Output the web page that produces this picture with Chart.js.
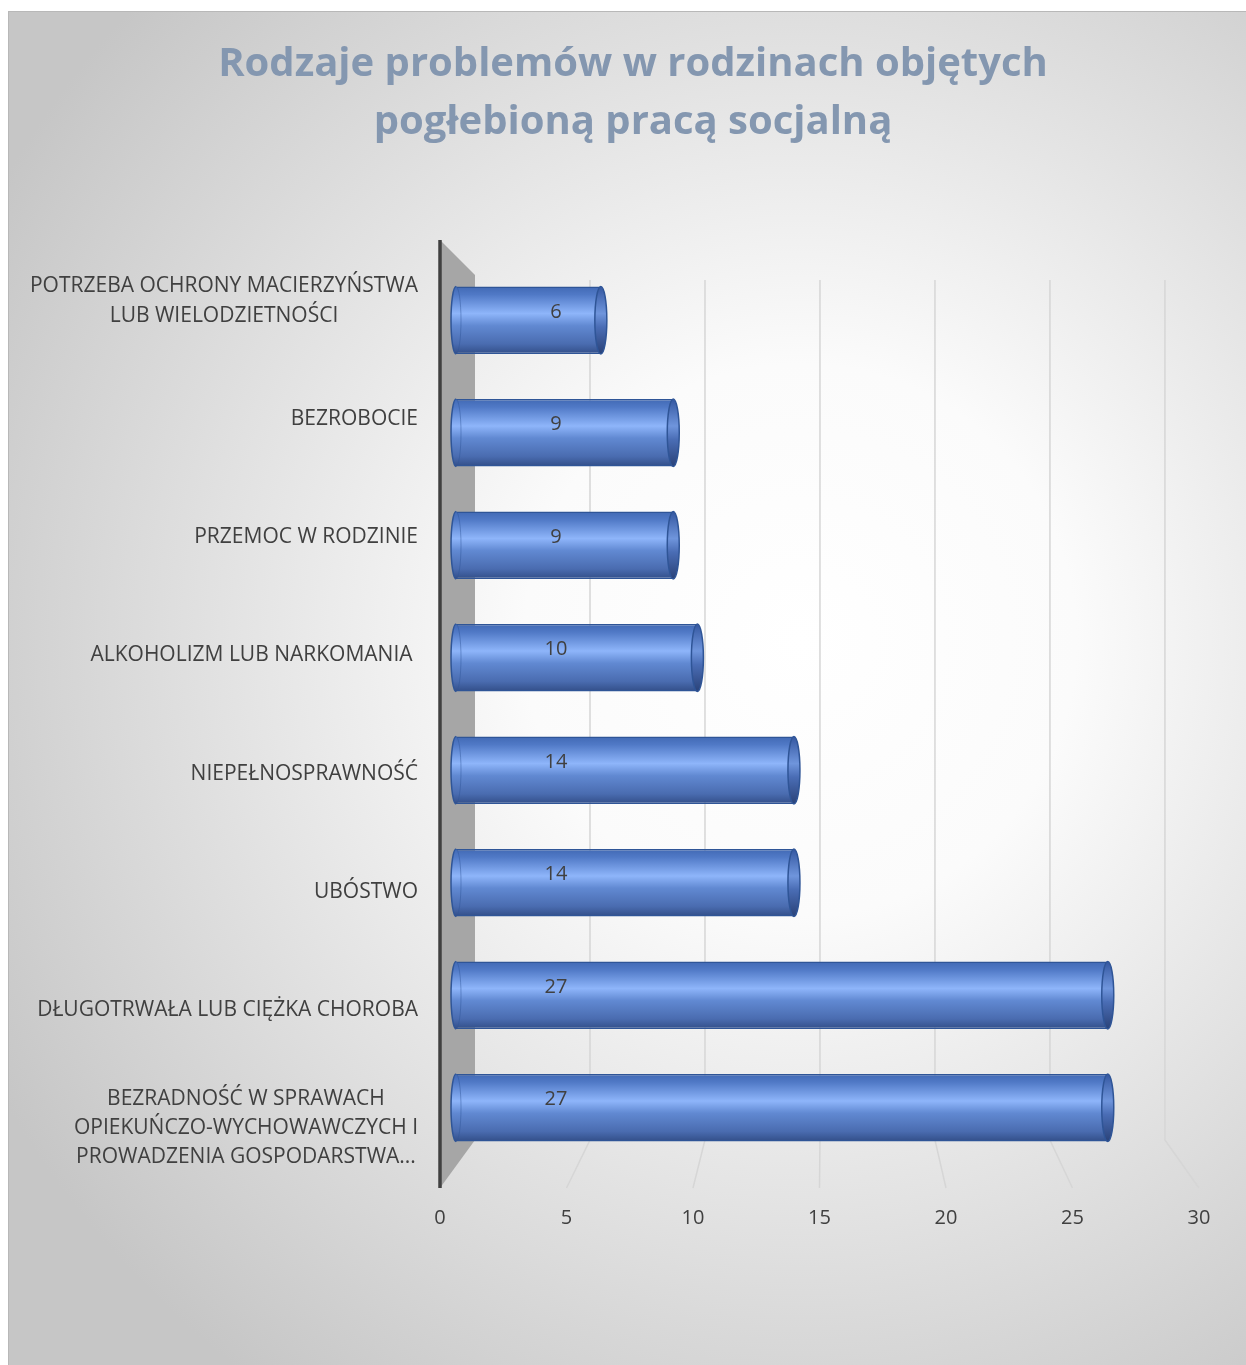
<!DOCTYPE html>
<html>
<head>
<meta charset="utf-8">
<script src="https://cdn.jsdelivr.net/npm/chart.js@4.4.0/dist/chart.umd.min.js"></script>
<style>
html, body { margin: 0; padding: 0; background: #fff; }
#wrap { width: 1246px; height: 1365px; }
</style>
</head>
<body>
<div id="wrap"><canvas id="problemsChart"></canvas></div>

<script>
const titleLines = ['Rodzaje problemów w rodzinach objętych', 'pogłebioną pracą socjalną'];
const categories = [
    ['POTRZEBA OCHRONY MACIERZYŃSTWA', 'LUB WIELODZIETNOŚCI'],
    'BEZROBOCIE',
    'PRZEMOC W RODZINIE',
    'ALKOHOLIZM LUB NARKOMANIA ',
    'NIEPEŁNOSPRAWNOŚĆ',
    'UBÓSTWO',
    'DŁUGOTRWAŁA LUB CIĘŻKA CHOROBA',
    ['BEZRADNOŚĆ W SPRAWACH', 'OPIEKUŃCZO-WYCHOWAWCZYCH I', 'PROWADZENIA GOSPODARSTWA...']
];
const values = [6, 9, 9, 10, 14, 14, 27, 27];
const axisMin = 0;
const axisMax = 30;
const axisStep = 5;

const TEXT = '#404040';
const FONT = "'Open Sans', 'Noto Sans', sans-serif";

// the 3-D view: bars sit mid-depth, axis labels on the front edge, grid on the back wall.
// the front axis spans the whole plot, the other planes are narrower.
const BAR_RANGE = { min: -0.663, max: 30.78 };
const LABEL_RANGE = { min: -0.313, max: 7.305 };

function cylinderGradient(ctx, top, bottom, dark) {
    const g = ctx.createLinearGradient(0, top, 0, bottom);
    if (dark) {
        g.addColorStop(0, '#3457a0');
        g.addColorStop(0.4, '#6f95dc');
        g.addColorStop(0.6, '#4a6db5');
        g.addColorStop(1, '#2a4278');
    } else {
        g.addColorStop(0, '#4169b4');
        g.addColorStop(0.12, '#5079c6');
        g.addColorStop(0.4, '#8eb5fa');
        g.addColorStop(0.58, '#6189d2');
        g.addColorStop(0.85, '#4a6cb0');
        g.addColorStop(1, '#324e88');
    }
    return g;
}

const backdrop = {
    id: 'backdrop',
    beforeDraw(chart) {
        const ctx = chart.ctx;
        const w = chart.width, h = chart.height;
        ctx.save();
        ctx.fillStyle = '#ffffff';
        ctx.fillRect(0, 0, w, h);
        const g = ctx.createRadialGradient(800, 640, 0, 800, 640, 920);
        g.addColorStop(0, '#ffffff');
        g.addColorStop(0.3, '#fbfbfb');
        g.addColorStop(1, '#c6c6c6');
        ctx.fillStyle = g;
        ctx.fillRect(8, 11, w - 8, h - 11);
        ctx.strokeStyle = '#b8b8b8';
        ctx.lineWidth = 1;
        ctx.strokeRect(8.5, 11.5, w, h);
        ctx.restore();
    }
};

// side wall, floor and back grid, placed from the front axis
const walls = {
    id: 'walls',
    beforeDatasetsDraw(chart) {
        const ctx = chart.ctx;
        const xf = chart.scales.xFront;
        const a = chart.chartArea;
        const f0 = xf.getPixelForValue(0);
        const backX = v => f0 + 35 + (xf.getPixelForValue(v) - f0) * 0.909;
        const yTop = a.top - 24, yBack = a.bottom - 24, yFront = a.bottom + 24;

        ctx.save();
        ctx.strokeStyle = '#d6d6d6';
        ctx.lineWidth = 1.5;
        xf.ticks.forEach(t => {
            if (t.value === 0) return;
            ctx.beginPath();
            ctx.moveTo(backX(t.value), a.top + 16);
            ctx.lineTo(backX(t.value), yBack);
            ctx.lineTo(xf.getPixelForValue(t.value), yFront);
            ctx.stroke();
        });

        ctx.fillStyle = '#a6a6a6';
        ctx.beginPath();
        ctx.moveTo(f0, yTop);
        ctx.lineTo(backX(0), a.top + 11);
        ctx.lineTo(backX(0), yBack);
        ctx.lineTo(f0, yFront);
        ctx.closePath();
        ctx.fill();

        ctx.strokeStyle = TEXT;
        ctx.lineWidth = 3.5;
        ctx.beginPath();
        ctx.moveTo(f0, yTop);
        ctx.lineTo(f0, yFront);
        ctx.stroke();
        ctx.restore();
    }
};

// end caps of the cylinders and the value labels
const caps = {
    id: 'caps',
    afterDatasetsDraw(chart) {
        const ctx = chart.ctx;
        const meta = chart.getDatasetMeta(0);
        const x0 = chart.scales.x.getPixelForValue(0);
        ctx.save();
        meta.data.forEach((bar, i) => {
            const p = bar.getProps(['x', 'y', 'base', 'height'], true);
            const top = p.y - p.height / 2, bottom = p.y + p.height / 2;
            const ry = p.height / 2;

            ctx.fillStyle = cylinderGradient(ctx, top, bottom, false);
            ctx.beginPath();
            ctx.ellipse(p.base, p.y, 5, ry, 0, 0, Math.PI * 2);
            ctx.fill();
            ctx.strokeStyle = '#2f5597';
            ctx.lineWidth = 1.5;
            ctx.beginPath();
            ctx.ellipse(p.base, p.y, 5, ry, 0, Math.PI / 2, Math.PI * 1.5);
            ctx.stroke();
            ctx.strokeStyle = 'rgba(47,85,151,0.45)';
            ctx.lineWidth = 1;
            ctx.beginPath();
            ctx.ellipse(p.base, p.y, 5, ry, 0, -Math.PI / 2, Math.PI / 2);
            ctx.stroke();

            ctx.fillStyle = cylinderGradient(ctx, top, bottom, true);
            ctx.beginPath();
            ctx.ellipse(p.x, p.y, 6, ry, 0, 0, Math.PI * 2);
            ctx.fill();
            ctx.strokeStyle = '#2f5597';
            ctx.lineWidth = 1.5;
            ctx.stroke();

            ctx.fillStyle = TEXT;
            ctx.font = '20px ' + FONT;
            ctx.textAlign = 'center';
            ctx.textBaseline = 'middle';
            ctx.fillText(String(values[i]), x0 + 100, p.y - 8);
        });
        ctx.restore();
    }
};

// multi-line category labels are centred on themselves, the block stays right aligned
const centreLines = {
    id: 'centreLines',
    beforeDraw(chart) {
        const ys = chart.scales.yLabels;
        const items = ys.getLabelItems();
        if (items._centred) return;
        const ctx = chart.ctx;
        items.forEach(it => {
            if (!Array.isArray(it.label)) return;
            ctx.save();
            ctx.font = it.font.string;
            const widest = Math.max(...it.label.map(s => ctx.measureText(s).width));
            ctx.restore();
            it.options.textAlign = 'center';
            it.options.translation[0] -= widest / 2;
        });
        items._centred = true;
    }
};

new Chart(document.getElementById('problemsChart'), {
    type: 'bar',
    data: {
        labels: categories,
        datasets: [{
            data: values,
            backgroundColor: function(c) {
                const chart = c.chart;
                const a = chart.chartArea;
                if (!a) return '#5079c6';
                const yc = chart.scales.y.getPixelForValue(c.dataIndex);
                const half = (a.bottom - a.top) / categories.length * 0.6 / 2;
                return cylinderGradient(chart.ctx, yc - half, yc + half, false);
            },
            borderColor: '#2f5597',
            borderWidth: { top: 1.5, bottom: 1.5, left: 0, right: 0 },
            borderSkipped: false,
            categoryPercentage: 1,
            barPercentage: 0.6
        }]
    },
    options: {
        indexAxis: 'y',
        responsive: true,
        maintainAspectRatio: false,
        animation: false,
        devicePixelRatio: 1,
        layout: { padding: { top: 20, left: 20, right: 0, bottom: 131 } },
        scales: {
            x: {
                display: false,
                min: BAR_RANGE.min,
                max: BAR_RANGE.max
            },
            xFront: {
                type: 'linear',
                position: 'bottom',
                offset: false,
                min: axisMin,
                max: axisMax,
                ticks: { stepSize: axisStep, color: TEXT, font: { family: FONT, size: 20 }, padding: 42 },
                grid: { display: false, drawTicks: false },
                border: { display: false },
                afterFit: s => { s.height = 70; s.paddingLeft = 0; s.paddingRight = 0; }
            },
            y: { display: false },
            yLabels: {
                type: 'linear',
                position: 'left',
                reverse: true,
                offset: false,
                min: LABEL_RANGE.min,
                max: LABEL_RANGE.max,
                ticks: {
                    stepSize: 1,
                    includeBounds: false,
                    autoSkip: false,
                    callback: v => Number.isInteger(v) ? categories[v] : '',
                    color: TEXT,
                    font: { family: FONT, size: 21, lineHeight: 1.4 },
                    padding: 22
                },
                grid: { display: false, drawTicks: false },
                border: { display: false },
                afterFit: s => { s.width = 420; }
            },
            yRight: {
                type: 'linear',
                position: 'right',
                offset: false,
                ticks: { display: false },
                grid: { display: false },
                border: { display: false },
                afterFit: s => { s.width = 47; }
            }
        },
        plugins: {
            legend: { display: false },
            tooltip: { enabled: false },
            title: {
                display: true,
                text: titleLines,
                color: '#8497b0',
                font: { family: FONT, size: 40, weight: 'bold', lineHeight: 1.45 },
                padding: { top: 16, bottom: 112 }
            }
        }
    },
    plugins: [backdrop, walls, caps, centreLines]
});
</script>
</body>
</html>
